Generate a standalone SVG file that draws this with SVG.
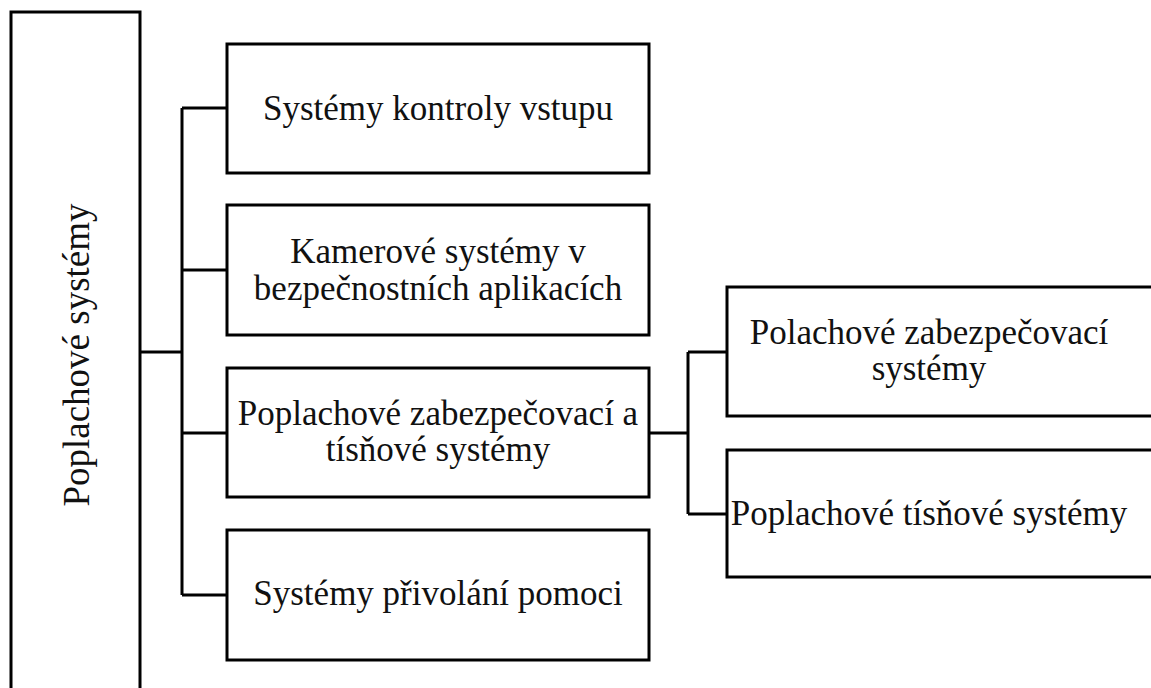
<svg xmlns="http://www.w3.org/2000/svg" width="1151" height="688" viewBox="0 0 1151 688">
<style>
rect{fill:#fff;stroke:#000;stroke-width:3}
.c{fill:none;stroke:#000;stroke-width:3}
text{font-family:"Liberation Serif","Times New Roman",serif;font-size:35px;fill:#111;text-anchor:middle}
</style>
<rect width="1151" height="688" style="stroke:none"/>
<g id="connectors">
<path class="c" d="M140 352H182M182 108V595M182 108H227M182 270H227M182 433H227M182 595H227"/>
<path class="c" d="M649 433H688M688 352V514M688 352H727M688 514H727"/>
</g>
<g id="root">
<rect x="11" y="12" width="129" height="700"/>
<text transform="translate(89 355) rotate(-90)" style="font-size:37px">Poplachové systémy</text>
</g>
<g id="n1">
<rect x="227" y="44" width="422" height="129"/>
<text x="438" y="120">Systémy kontroly vstupu</text>
</g>
<g id="n2">
<rect x="227" y="205" width="422" height="130"/>
<text x="438" y="263">Kamerové systémy v</text>
<text x="438" y="300">bezpečnostních aplikacích</text>
</g>
<g id="n3">
<rect x="227" y="368" width="422" height="129"/>
<text x="438" y="425">Poplachové zabezpečovací a</text>
<text x="438" y="461">tísňové systémy</text>
</g>
<g id="n4">
<rect x="227" y="530" width="422" height="130"/>
<text x="438" y="605">Systémy přivolání pomoci</text>
</g>
<g id="n5">
<rect x="727" y="287" width="440" height="129"/>
<text x="929" y="344">Polachové zabezpečovací</text>
<text x="929" y="380">systémy</text>
</g>
<g id="n6">
<rect x="727" y="450" width="440" height="127"/>
<text x="929" y="525">Poplachové tísňové systémy</text>
</g>
</svg>
